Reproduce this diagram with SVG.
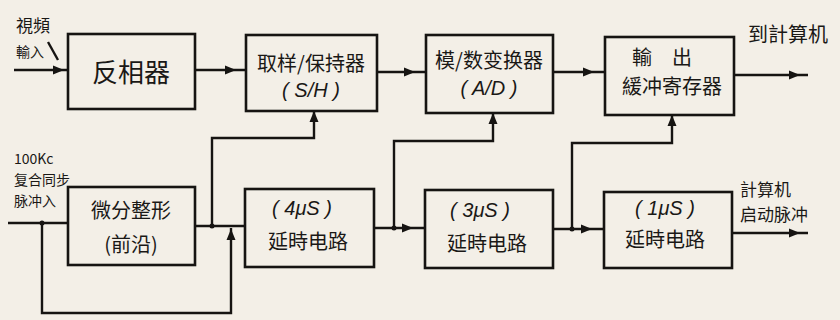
<svg xmlns="http://www.w3.org/2000/svg" xmlns:xlink="http://www.w3.org/1999/xlink" width="840" height="320" viewBox="0 0 840 320">
<style>
.box{fill:none;stroke:#161412;stroke-width:2.6}
.ln{fill:none;stroke:#161412;stroke-width:2.4}
.ah{fill:#161412}
.dot{fill:#161412}
text{fill:#1a1816;font-family:"Noto Sans CJK SC","Noto Sans CJK TC",sans-serif;text-anchor:middle;dominant-baseline:central}
.t1{font-size:26px}
.t2{font-size:20px}
.lat{font-family:"Liberation Sans","Noto Sans",sans-serif;font-size:20px;font-style:italic}
.sm{font-size:14px;text-anchor:start}
.lb{font-size:20px;text-anchor:start}
.lb2{font-size:17px;text-anchor:start}
</style>
<defs>
<path id="ah" class="ah" d="M0,0 L-11,-4.5 L-11,4.5 Z"/>
</defs>
<rect width="840" height="320" fill="#f3efe7"/>

<g id="connectors">
  <!-- top row -->
  <path class="ln" d="M14 70 H68"/>
  <path class="ln" d="M195 70 H246"/>
  <path class="ln" d="M377 72 H426"/>
  <path class="ln" d="M553 72 H605"/>
  <path class="ln" d="M734 75 H808"/>
  <path class="ln" d="M48 42 L58 60"/>
  <!-- bottom row -->
  <path class="ln" d="M8 223 H68"/>
  <path class="ln" d="M42 223 V313 H231 V228"/>
  <path class="ln" d="M195 226 H245"/>
  <path class="ln" d="M212 226 V138 H314 V111"/>
  <path class="ln" d="M374 228 H425"/>
  <path class="ln" d="M394 228 V141 H493 V113"/>
  <path class="ln" d="M553 229 H604"/>
  <path class="ln" d="M572 229 V143 H672 V115"/>
  <path class="ln" d="M732 233 H808"/>
  <circle class="dot" cx="42" cy="223" r="2.5"/>
  <circle class="dot" cx="212" cy="226" r="2.5"/>
  <circle class="dot" cx="394" cy="228" r="2.5"/>
  <circle class="dot" cx="572" cy="229" r="2.5"/>
  <!-- arrowheads -->
  <use xlink:href="#ah" transform="translate(64 70)"/>
  <use xlink:href="#ah" transform="translate(236 70)"/>
  <use xlink:href="#ah" transform="translate(415 72)"/>
  <use xlink:href="#ah" transform="translate(594 72)"/>
  <use xlink:href="#ah" transform="translate(800 75)"/>
  <use xlink:href="#ah" transform="translate(314 111) rotate(-90)"/>
  <use xlink:href="#ah" transform="translate(493 113) rotate(-90)"/>
  <use xlink:href="#ah" transform="translate(672 115) rotate(-90)"/>
  <use xlink:href="#ah" transform="translate(231 229) rotate(-90)"/>
  <use xlink:href="#ah" transform="translate(413 228)"/>
  <use xlink:href="#ah" transform="translate(592 229)"/>
  <use xlink:href="#ah" transform="translate(800 233)"/>
</g>

<g id="in-video">
  <text class="sm" x="16" y="24" style="font-size:17px">視頻</text>
  <text class="sm" x="16" y="51">輸入</text>
</g>
<g id="in-sync">
  <text class="sm" x="14" y="158">100Kc</text>
  <text class="sm" x="14" y="179">复合同步</text>
  <text class="sm" x="14" y="200">脉冲入</text>
</g>
<g id="out-computer">
  <text class="lb" x="748" y="33">到計算机</text>
</g>
<g id="out-start">
  <text class="lb2" x="740" y="188">計算机</text>
  <text class="lb2" x="740" y="213">启动脉冲</text>
</g>

<g id="inverter">
  <rect class="box" x="68" y="34" width="127" height="75"/>
  <text class="t1" x="131" y="70">反相器</text>
</g>
<g id="sample-hold">
  <rect class="box" x="246" y="35" width="131" height="76"/>
  <text class="t2" x="311" y="62">取样/保持器</text>
  <text class="lat" x="311" y="90">( S/H )</text>
</g>
<g id="adc">
  <rect class="box" x="426" y="35" width="127" height="78"/>
  <text class="t2" x="489" y="59">模/数变换器</text>
  <text class="lat" x="489" y="88">( A/D )</text>
</g>
<g id="output-buffer">
  <rect class="box" x="605" y="37" width="129" height="78"/>
  <text class="t2" x="662" y="56">輸　出</text>
  <text class="t2" x="672" y="85">緩冲寄存器</text>
</g>
<g id="differentiator">
  <rect class="box" x="68" y="187" width="127" height="78"/>
  <text class="t2" x="131" y="209">微分整形</text>
  <text class="t2" x="131" y="243">(前沿)</text>
</g>
<g id="delay4">
  <rect class="box" x="245" y="189" width="129" height="78"/>
  <text class="lat" x="302" y="208">( 4μS )</text>
  <text class="t2" x="308" y="240">延時电路</text>
</g>
<g id="delay3">
  <rect class="box" x="425" y="190" width="128" height="78"/>
  <text class="lat" x="480" y="210">( 3μS )</text>
  <text class="t2" x="487" y="242">延時电路</text>
</g>
<g id="delay1">
  <rect class="box" x="604" y="192" width="128" height="76"/>
  <text class="lat" x="665" y="208">( 1μS )</text>
  <text class="t2" x="665" y="238">延時电路</text>
</g>
</svg>
